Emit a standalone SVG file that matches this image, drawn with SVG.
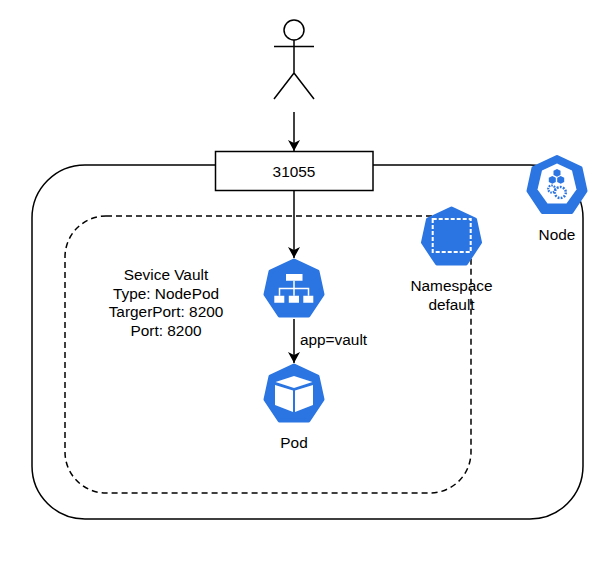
<svg xmlns="http://www.w3.org/2000/svg" xmlns:xlink="http://www.w3.org/1999/xlink" width="615" height="577" viewBox="0 0 615 577">
<style>
text{font-family:"Liberation Sans",Arial,sans-serif;font-size:15.4px;fill:#000;text-anchor:middle}
.line{fill:none;stroke:#000;stroke-width:1.5}
.hep{fill:#2b75e2;stroke:#2b75e2;stroke-width:4;stroke-linejoin:round}
.w{fill:#fff}
.wl{fill:none;stroke:#fff;stroke-width:1.5}
</style>
<defs>
<marker id="arrow" markerUnits="userSpaceOnUse" markerWidth="14" markerHeight="14" refX="11" refY="6" orient="auto">
<path d="M0 0L11 6L0 12L3 6Z" fill="#000"/>
</marker>
<polygon id="hept" class="hep" points="0,4.500 23.500,15.500 28.500,38.500 14.500,59.500 -14.500,59.500 -28.500,38.500 -23.500,15.500"/>
</defs>
<rect width="615" height="577" fill="#fff"/>
<g id="node-boundary"><rect class="line" x="32" y="165" width="551" height="354" rx="53" ry="53"/></g>
<g id="namespace-boundary"><rect class="line" x="65" y="216" width="406" height="277" rx="41" ry="41" stroke-dasharray="6 4"/></g>
<g id="connectors">
<path class="line" d="M294 112V151" marker-end="url(#arrow)"/>
<path class="line" d="M294 190V258" marker-end="url(#arrow)"/>
<path class="line" d="M294 319V363" marker-end="url(#arrow)"/>
</g>
<g id="person">
<circle class="line" cx="294" cy="30" r="10"/>
<path class="line" d="M294 40V73M274 46.500H314M274 99L294 73L314 99"/>
</g>
<g id="port-31055">
<rect x="215.500" y="151.500" width="157.500" height="39" fill="#fff" stroke="#000" stroke-width="1.500"/>
<text x="294" y="176.500">31055</text>
</g>
<g id="service-label">
<text x="166" y="280">Sevice Vault</text>
<text x="166" y="298.500">Type: NodePod</text>
<text x="166" y="317">TargerPort: 8200</text>
<text x="166" y="336">Port: 8200</text>
</g>
<g id="service-icon" transform="translate(294 256)">
<use href="#hept"/>
<path class="w" d="M-8 18H8.500V24.700H-8ZM-19.700 39.700H-9.700V46.700H-19.700ZM-5.200 39.700H5V46.700H-5.200ZM9.300 39.700H19.300V46.700H9.300Z"/>
<path class="wl" d="M0 24.700V39.700M-14.500 39.700V32.500H14.500V39.700"/>
</g>
<g id="edge-label"><text x="333.500" y="344.500">app=vault</text></g>
<g id="pod" transform="translate(294 361)">
<use href="#hept"/>
<path class="w" d="M0 15L-18.500 21L0 27L18.500 21ZM-19 24L-1 29.500V51L-19 44ZM19 24L1 29.500V51L19 44Z"/>
<text y="87">Pod</text>
</g>
<g id="namespace" transform="translate(451.500 204)">
<use href="#hept"/>
<rect x="-18.800" y="15" width="38" height="33" fill="none" stroke="#fff" stroke-width="2" stroke-dasharray="4 2"/>
<text y="86.500">Namespace</text>
<text y="105.500">default</text>
</g>
<g id="node" transform="translate(557 152.500)">
<use href="#hept"/>
<path class="w" d="M0 11L15 18L19.500 37L9.500 51H-9.500L-19.500 37L-15 18Z"/>
<g fill="#2b75e2">
<path d="M0 16.500L3.500 18.300V22.500L0 24.300L-3.500 22.500V18.300Z"/>
<path d="M-4.700 23.500L-1.200 25.300V29.500L-4.700 31.300L-8.200 29.500V25.300Z"/>
<path d="M3.700 23.500L7.200 25.300V29.500L3.700 31.300L0.200 29.500V25.300Z"/>
</g>
<circle cx="-5.300" cy="36.500" r="3.500" fill="none" stroke="#2b75e2" stroke-width="2.200" stroke-dasharray="1.600 1"/>
<circle cx="3.300" cy="40" r="5.500" fill="#fff" stroke="#2b75e2" stroke-width="2.500" stroke-dasharray="1.800 1.300"/>
<text y="87">Node</text>
</g>
</svg>
